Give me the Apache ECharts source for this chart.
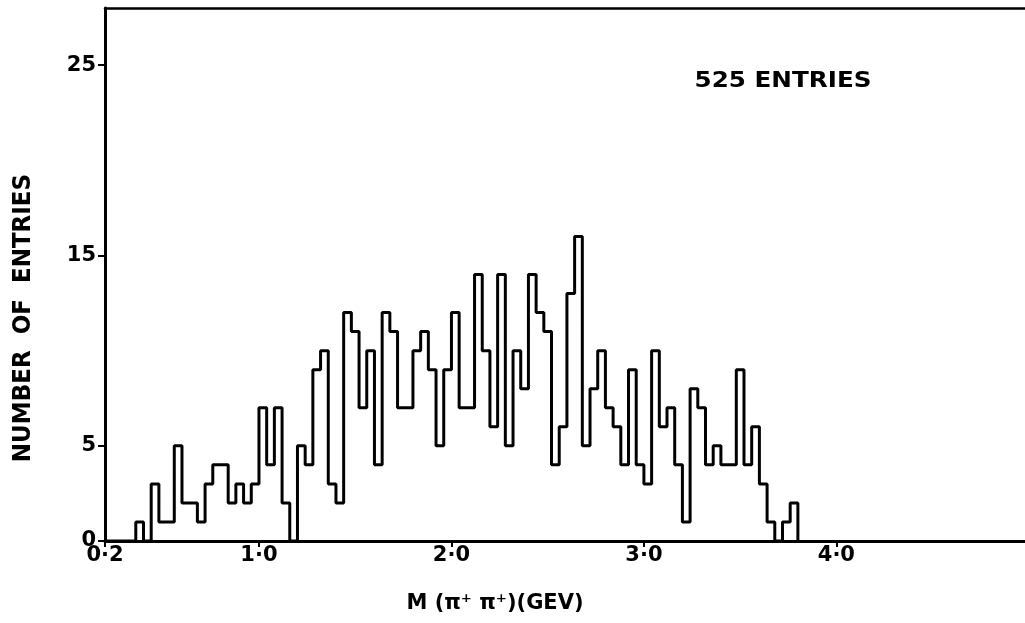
<!DOCTYPE html>
<html><head><meta charset="utf-8">
<script src="https://cdn.jsdelivr.net/npm/echarts@6/dist/echarts.min.js"></script>
<style>html,body{margin:0;padding:0;background:#fff}#c{width:1025px;height:623px}</style>
</head><body><div id="c"></div>
<script>
// Histogram: bins of 0.04 GeV starting at 0.2 GeV
const binStart = 0.2;
const binWidth = 0.04;
const counts = [
  0,0,0,0,1,0,3,1,1,5,
  2,2,1,3,4,4,2,3,2,3,
  7,4,7,2,0,5,4,9,10,3,
  2,12,11,7,10,4,12,11,7,7,
  10,11,9,5,9,12,7,7,14,10,
  6,14,5,10,8,14,12,11,4,6,
  13,16,5,8,10,7,6,4,9,4,
  3,10,6,7,4,1,8,7,4,5,
  4,4,9,4,6,3,1,0,1,2
];
const xTicks = [0.2, 1, 2, 3, 4];
const xTickLabels = ['0·2', '1·0', '2·0', '3·0', '4·0'];
const yTicks = [0, 5, 15, 25];
const yTickLabels = ['0', '5', '15', '25'];
const xTitle = 'M (π⁺ π⁺)(GEV)';
const yTitle = 'NUMBER  OF  ENTRIES';
const noteText = '525 ENTRIES';

const data = counts.map((v, k) => [binStart + binWidth * k, v]);
data.push([binStart + binWidth * counts.length, 0]);

const FONT = 'DejaVu Sans';
const chart = echarts.init(document.getElementById('c'), null, {renderer: 'canvas'});
chart.setOption({
  animation: false,
  backgroundColor: '#fff',
  grid: {left: 105, right: 0, top: 8, bottom: 82},
  graphic: [{
    type: 'text', x: 495, y: 604,
    style: {text: xTitle, fontFamily: FONT, fontWeight: 'bold', fontSize: 21, fill: '#000',
            align: 'center', verticalAlign: 'middle'}
  }, {
    type: 'text', x: 23, y: 318, rotation: Math.PI / 2, scaleX: 0.92,
    style: {text: yTitle, fontFamily: FONT, fontWeight: 'bold', fontSize: 25, fill: '#000',
            align: 'center', verticalAlign: 'middle'}
  }, {
    type: 'text', x: 783, y: 81, scaleX: 1.12,
    style: {text: noteText, fontFamily: FONT, fontWeight: 'bold', fontSize: 22, fill: '#000',
            align: 'center', verticalAlign: 'middle'}
  }],
  xAxis: [{
    type: 'value', min: 0.2, max: 4.98,
    axisLine: {show: true, lineStyle: {color: '#000', width: 3}},
    splitLine: {show: false},
    axisTick: {show: true, customValues: xTicks, length: 6, inside: false, lineStyle: {color: '#000', width: 2}},
    axisLabel: {
      customValues: xTicks, margin: 4, color: '#000',
      fontFamily: FONT, fontWeight: 'bold', fontSize: 21,
      formatter: v => xTickLabels[xTicks.findIndex(t => Math.abs(t - v) < 1e-6)] || ''
    }
  }, {
    type: 'value', position: 'top', min: 0.2, max: 4.98,
    axisLine: {show: true, lineStyle: {color: '#000', width: 2.5}},
    axisTick: {show: false}, axisLabel: {show: false}, splitLine: {show: false}
  }],
  yAxis: {
    type: 'value', min: 0, max: 28,
    axisLine: {show: true, lineStyle: {color: '#000', width: 3}},
    splitLine: {show: false},
    axisTick: {show: true, customValues: yTicks, length: 7, lineStyle: {color: '#000', width: 2}},
    axisLabel: {
      customValues: yTicks, margin: 9, color: '#000',
      fontFamily: FONT, fontWeight: 'bold', fontSize: 21,
      formatter: v => yTickLabels[yTicks.indexOf(v)] || ''
    }
  },
  series: [{
    type: 'line', step: 'end', data: data, symbol: 'none',
    lineStyle: {color: '#000', width: 3}, clip: true
  }]
});
</script>
</body></html>
